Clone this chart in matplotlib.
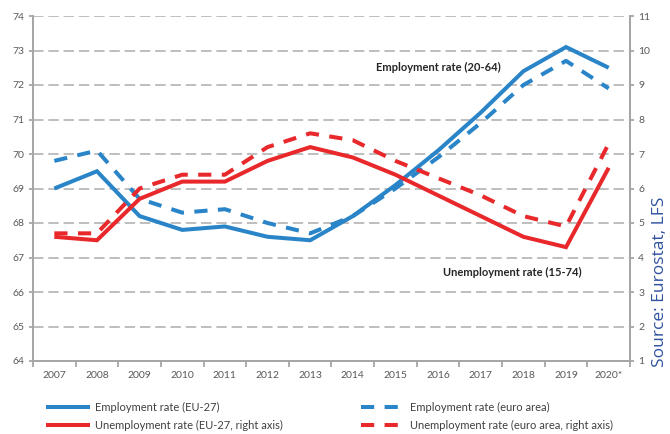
import matplotlib
matplotlib.use("Agg")
import matplotlib.pyplot as plt
from matplotlib.ticker import FixedLocator, NullFormatter

plt.rcParams['font.family'] = ['Lato', 'DejaVu Sans']
plt.rcParams['lines.scale_dashes'] = False

years = ['2007', '2008', '2009', '2010', '2011', '2012', '2013',
         '2014', '2015', '2016', '2017', '2018', '2019', '2020*']
emp_eu27 = [69.0, 69.5, 68.2, 67.8, 67.9, 67.6, 67.5, 68.2, 69.1, 70.1, 71.2, 72.4, 73.1, 72.5]
emp_ea = [69.8, 70.1, 68.7, 68.3, 68.4, 68.0, 67.7, 68.2, 69.0, 69.9, 70.9, 72.0, 72.7, 71.9]
unemp_eu27 = [4.6, 4.5, 5.7, 6.2, 6.2, 6.8, 7.2, 6.9, 6.4, 5.8, 5.2, 4.6, 4.3, 6.6]
unemp_ea = [4.7, 4.7, 6.0, 6.4, 6.4, 7.2, 7.6, 7.4, 6.8, 6.3, 5.8, 5.2, 4.9, 7.3]

left_ticks = list(range(64, 75))
right_ticks = list(range(1, 12))

BLUE = '#2A85C8'
RED = '#E8282B'
GRID = '#B3B3B3'
AXIS = '#A6A6A6'
TXT = '#595959'
DASH = (0, (9.5, 7.5))

fig = plt.figure(figsize=(6.7, 4.34), dpi=100)
ax = fig.add_axes([33 / 670, 1 - 361 / 434, 597 / 670, 345 / 434])
ax2 = ax.twinx()

x = list(range(len(years)))

ax.plot(x, emp_eu27, color=BLUE, lw=2.9, solid_capstyle='butt', solid_joinstyle='miter',
        label='Employment rate (EU-27)')
ax.plot(x, emp_ea, color=BLUE, lw=2.9, linestyle=DASH, dash_capstyle='butt',
        label='Employment rate (euro area)')
ax2.plot(x, unemp_eu27, color=RED, lw=2.9, solid_capstyle='butt', solid_joinstyle='miter',
         label='Unemployment rate (EU-27, right axis)')
ax2.plot(x, unemp_ea, color=RED, lw=2.9, linestyle=DASH, dash_capstyle='butt',
         label='Unemployment rate (euro area, right axis)')

ax.set_xlim(-0.5, len(years) - 0.5)
ax.set_ylim(64, 74)
ax2.set_ylim(1, 11)
ax.set_yticks(left_ticks)
ax2.set_yticks(right_ticks)

ax.set_xticks(x)
ax.set_xticklabels(years)
ax.xaxis.set_minor_locator(FixedLocator([i - 0.5 for i in range(len(years) + 1)]))
ax.xaxis.set_minor_formatter(NullFormatter())
ax.tick_params(axis='x', which='major', length=0, pad=7, labelsize=7.5, labelcolor=TXT)
ax.tick_params(axis='x', which='minor', length=4, width=1.3, color=AXIS, direction='out')
ax.tick_params(axis='y', length=3, width=1.3, color=AXIS, pad=3, labelsize=7.5, labelcolor=TXT)
ax2.tick_params(axis='y', length=3, width=1.3, color=AXIS, pad=3, labelsize=7.5, labelcolor=TXT)

ax.grid(axis='y', color=GRID, lw=1.2, linestyle=(0, (7.5, 3.5)))
ax.set_axisbelow(True)

for a in (ax, ax2):
    a.spines['top'].set_visible(False)
    for s in ('left', 'right', 'bottom'):
        a.spines[s].set_color(AXIS)
        a.spines[s].set_linewidth(1.3)

ax.text(9.0, 72.5, 'Employment rate (20-64)', fontsize=8, fontweight='bold',
        color='#262626', ha='center', va='center')
ax.text(10.75, 66.57, 'Unemployment rate (15-74)', fontsize=8, fontweight='bold',
        color='#262626', ha='center', va='center')

fig.text(660 / 670, 1 - 282 / 434, 'Source: Eurostat, LFS', rotation=90,
         fontsize=12.5, color='#2F52A0', ha='center', va='center',
         family=['Open Sans', 'DejaVu Sans'])

h1, l1 = ax.get_legend_handles_labels()
h2, l2 = ax2.get_legend_handles_labels()
leg_kw = dict(frameon=False, fontsize=8, handlelength=4.0, handletextpad=0.45,
              labelspacing=0.62, borderpad=0, borderaxespad=0, loc='upper left')
leg1 = fig.legend([h1[0], h2[0]], [l1[0], l2[0]],
                  bbox_to_anchor=(46 / 670, 1 - 402 / 434), **leg_kw)
for t in leg1.get_texts():
    t.set_color('#404040')
leg2 = fig.legend([h1[1], h2[1]], [l1[1], l2[1]],
                  bbox_to_anchor=(361 / 670, 1 - 402 / 434), **leg_kw)
for t in leg2.get_texts():
    t.set_color('#404040')

fig.savefig('out.png', dpi=100)
